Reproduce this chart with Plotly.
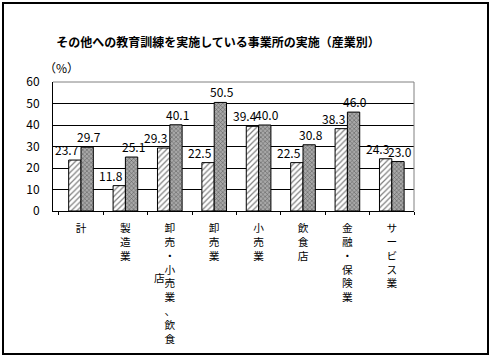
import plotly.graph_objects as go

categories = ["計", "製造業", "卸売・小売業、飲食店", "卸売業", "小売業", "飲食店", "金融・保険業", "サービス業"]
series_a = [23.7, 11.8, 29.3, 22.5, 39.4, 22.5, 38.3, 24.3]
series_b = [29.7, 25.1, 40.1, 50.5, 40.0, 30.8, 46.0, 23.0]
y_ticks = [0, 10, 20, 30, 40, 50, 60]
title_text = "その他への教育訓練を実施している事業所の実施（産業別）"
unit_text = "（%）"

FONT = "Noto Sans CJK JP"
W, H = 491, 358
ML, MR, MT, MB = 53, 77, 82, 147
PW, PH = W - ML - MR, H - MT - MB
MAXROWS = 9
XFS = 10.7

def px_to_paper_x(px):
    return (px - ML) / PW

def px_to_paper_y(py):
    return (H - MB - py) / PH

ticktext = []
overflow = []
for c in categories:
    chars = list(c)
    ticktext.append("<br>".join(chars[:MAXROWS]))
    overflow.append(chars[MAXROWS:])

fig = go.Figure()
fig.add_trace(go.Bar(
    x=categories, y=series_a, name="A",
    marker=dict(color="white", line=dict(color="black", width=1),
                pattern=dict(shape="/", fgcolor="black", bgcolor="white", size=4, solidity=0.3)),
))
fig.add_trace(go.Bar(
    x=categories, y=series_b, name="B",
    marker=dict(color="#a0a0a0", line=dict(color="black", width=1),
                pattern=dict(shape="x", fgcolor="black", bgcolor="#a8a8a8", size=3, solidity=0.3)),
))

annotations = []
for cat, v in zip(categories, series_a):
    annotations.append(dict(x=cat, y=v, xref="x", yref="y", text=f"{v:.1f}", showarrow=False,
                            yanchor="bottom", xanchor="center", xshift=-14, yshift=0,
                            font=dict(family=FONT, size=12, color="black")))
for cat, v in zip(categories, series_b):
    annotations.append(dict(x=cat, y=v, xref="x", yref="y", text=f"{v:.1f}", showarrow=False,
                            yanchor="bottom", xanchor="center", xshift=8, yshift=0,
                            font=dict(family=FONT, size=12, color="black")))
for cat, ov in zip(categories, overflow):
    if ov:
        row = (MAXROWS - len(ov)) / 2.0
        ypx = H - MB + 11 + row * 13.9
        annotations.append(dict(x=cat, y=px_to_paper_y(ypx), xref="x", yref="paper",
                                text="<br>".join(ov), showarrow=False, xshift=-10,
                                yanchor="middle", xanchor="center",
                                font=dict(family=FONT, size=XFS, color="black")))
annotations.append(dict(x=px_to_paper_x(61), y=px_to_paper_y(67), xref="paper", yref="paper",
                        text=unit_text, showarrow=False, xanchor="center", yanchor="middle",
                        font=dict(family=FONT, size=12, color="black")))

shapes = [
    dict(type="line", xref="paper", yref="paper", x0=0, x1=1, y0=1, y1=1,
         line=dict(color="#808080", width=1), layer="above"),
    dict(type="line", xref="paper", yref="paper", x0=1, x1=1, y0=0, y1=1,
         line=dict(color="#808080", width=1), layer="above"),
    dict(type="rect", xref="paper", yref="paper",
         x0=px_to_paper_x(3), x1=px_to_paper_x(488), y0=px_to_paper_y(3), y1=px_to_paper_y(354),
         line=dict(color="black", width=2), layer="above"),
]

fig.update_layout(
    width=W, height=H,
    margin=dict(l=ML, r=MR, t=MT, b=MB, pad=0),
    paper_bgcolor="white", plot_bgcolor="white",
    barmode="group", bargap=0.445, bargroupgap=0,
    showlegend=False,
    font=dict(family=FONT, size=12, color="black"),
    title=dict(text="<b>" + title_text + "</b>", x=218 / W, xref="container", xanchor="center",
               y=1 - 43 / H, yref="container", yanchor="middle",
               font=dict(family=FONT, size=12, color="black")),
    xaxis=dict(type="category", tickvals=categories, ticktext=ticktext,
               showline=True, linecolor="black", linewidth=1,
               ticks="outside", tickson="boundaries", ticklen=3, tickcolor="black",
               showgrid=False, tickfont=dict(family=FONT, size=XFS, color="black"),
               tickangle=0, ticklabelstandoff=7),
    yaxis=dict(range=[0, 60], tickvals=y_ticks, showline=True, linecolor="black", linewidth=1,
               showgrid=True, gridcolor="black", gridwidth=1, zeroline=False,
               ticks="", ticklabelstandoff=10,
               tickfont=dict(family=FONT, size=12, color="black")),
    annotations=annotations,
    shapes=shapes,
)

fig.write_html("out.html", config={"displayModeBar": False},
               post_script="document.body.style.margin='0';document.body.style.overflow='hidden';")
